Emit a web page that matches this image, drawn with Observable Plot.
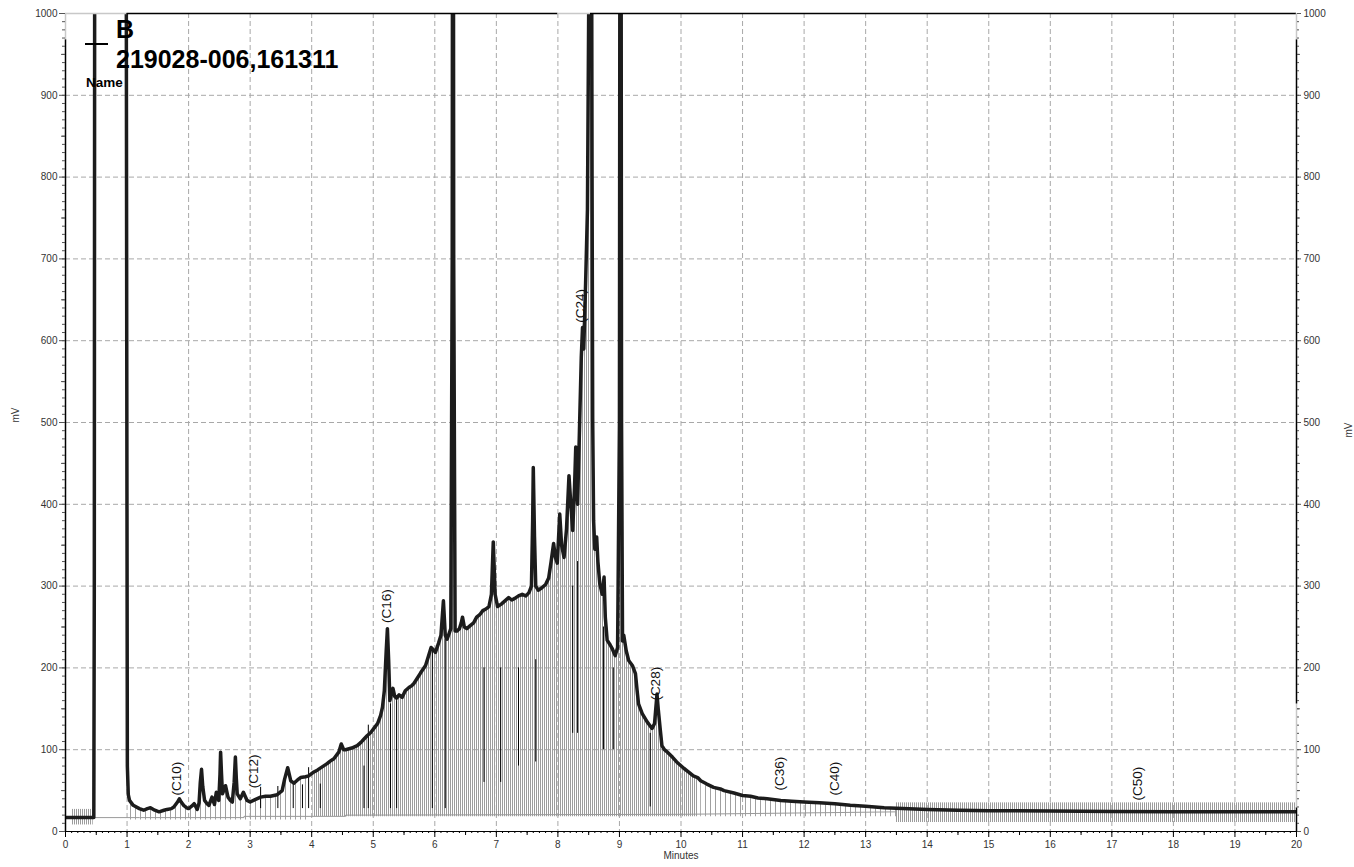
<!DOCTYPE html>
<html>
<head>
<meta charset="utf-8">
<script src="https://cdn.jsdelivr.net/npm/d3@7"></script>
<script src="https://cdn.jsdelivr.net/npm/@observablehq/plot@0.6"></script>
<style>
  html, body { margin: 0; padding: 0; background: #fff; }
  #wrap { position: relative; width: 1354px; height: 867px; font-family: "Liberation Sans", Arial, sans-serif; }
  #wrap svg { position: absolute; left: 0; top: 0; }
  .key { position: absolute; color: #000; font-weight: bold; line-height: 1; white-space: nowrap; }
  .key-line { position: absolute; left: 85px; top: 43px; width: 23px; height: 2px; background: #000; }
</style>
</head>
<body>
<div id="wrap">
  <div class="key-line"></div>
  <div class="key" style="left:116px; top:17px; font-size:25px;">B</div>
  <div class="key" style="left:116px; top:47px; font-size:25px;">219028-006,161311</div>
  <div class="key" style="left:86px; top:76px; font-size:13.5px;">Name</div>
</div>
<script>
// Detector signal (minutes, mV)
const trace = [
  [0, 17], [0.46, 17], [0.468, 300], [0.475, 1200], [0.985, 1200], [0.995, 600],
  [1.005, 80], [1.02, 45], [1.04, 38], [1.1, 32], [1.2, 28], [1.27, 26], [1.33, 28],
  [1.38, 29], [1.45, 26], [1.52, 24], [1.6, 26], [1.65, 27], [1.72, 28], [1.76, 30],
  [1.82, 36], [1.85, 40], [1.88, 36], [1.92, 32], [1.97, 29], [2.0, 28], [2.05, 31],
  [2.09, 34], [2.14, 27], [2.17, 35], [2.19, 60], [2.21, 76], [2.23, 55], [2.26, 38],
  [2.3, 34], [2.33, 32], [2.38, 42], [2.42, 33], [2.45, 48], [2.49, 38], [2.51, 70],
  [2.52, 97], [2.535, 70], [2.55, 46], [2.6, 56], [2.64, 42], [2.68, 38], [2.71, 36],
  [2.74, 60], [2.76, 91], [2.775, 65], [2.79, 46], [2.84, 40], [2.89, 48], [2.95, 38],
  [3.0, 36], [3.08, 39], [3.17, 42], [3.25, 43], [3.33, 43], [3.44, 45], [3.52, 50],
  [3.56, 64], [3.61, 78], [3.66, 62], [3.71, 59], [3.77, 63], [3.82, 66], [3.9, 67],
  [3.95, 68], [4.02, 72], [4.09, 75], [4.17, 79], [4.25, 83], [4.3, 86], [4.36, 89],
  [4.44, 97], [4.48, 107], [4.52, 100], [4.55, 100], [4.65, 102], [4.74, 105],
  [4.8, 109], [4.85, 113], [4.9, 117], [4.96, 121], [5.02, 127], [5.07, 132],
  [5.12, 142], [5.15, 152], [5.18, 172], [5.21, 220], [5.23, 248], [5.25, 210],
  [5.27, 160], [5.3, 170], [5.32, 175], [5.35, 165], [5.38, 163], [5.42, 167],
  [5.47, 164], [5.52, 172], [5.58, 176], [5.62, 178], [5.66, 181], [5.72, 188],
  [5.77, 194], [5.85, 203], [5.9, 215], [5.94, 225], [5.98, 222], [6.01, 219],
  [6.06, 230], [6.1, 240], [6.14, 282], [6.17, 240], [6.2, 235], [6.26, 248],
  [6.283, 700], [6.288, 1200], [6.302, 1200], [6.307, 700], [6.33, 245], [6.36, 245],
  [6.4, 248], [6.43, 255], [6.45, 262], [6.48, 250], [6.52, 248], [6.58, 252],
  [6.63, 255], [6.68, 262], [6.73, 265], [6.78, 270], [6.83, 272], [6.88, 275],
  [6.92, 290], [6.95, 354], [6.98, 290], [7.02, 275], [7.08, 278], [7.14, 282],
  [7.2, 286], [7.25, 283], [7.3, 285], [7.36, 288], [7.42, 290], [7.48, 288],
  [7.53, 292], [7.57, 300], [7.59, 380], [7.6, 445], [7.62, 360], [7.64, 300],
  [7.68, 295], [7.74, 298], [7.8, 302], [7.85, 310], [7.89, 330], [7.93, 352],
  [7.96, 335], [7.99, 328], [8.03, 388], [8.06, 350], [8.1, 335], [8.14, 370],
  [8.18, 435], [8.21, 400], [8.24, 368], [8.27, 420], [8.29, 470], [8.32, 400],
  [8.35, 490], [8.38, 580], [8.4, 616], [8.42, 590], [8.45, 670], [8.48, 760],
  [8.5, 1000], [8.51, 1200], [8.545, 1200], [8.555, 800], [8.565, 506], [8.58, 380],
  [8.6, 345], [8.63, 360], [8.65, 330], [8.68, 303], [8.72, 290], [8.75, 311],
  [8.77, 262], [8.8, 234], [8.85, 228], [8.88, 224], [8.93, 215], [8.97, 225],
  [9.0, 500], [9.008, 1200], [9.026, 1200], [9.034, 500], [9.05, 233], [9.07, 240],
  [9.11, 221], [9.15, 209], [9.21, 203], [9.26, 193], [9.29, 170], [9.31, 156],
  [9.37, 144], [9.45, 134], [9.53, 126], [9.57, 132], [9.59, 150], [9.61, 168],
  [9.63, 150], [9.66, 127], [9.69, 105], [9.73, 100], [9.78, 97], [9.86, 91],
  [9.93, 85], [9.99, 81], [10.05, 77], [10.12, 73], [10.2, 68], [10.27, 66],
  [10.32, 62], [10.42, 58], [10.53, 54], [10.64, 52], [10.7, 50], [10.86, 47],
  [11.0, 44], [11.13, 43], [11.25, 41], [11.4, 40], [11.62, 38], [11.8, 37],
  [12.0, 36], [12.25, 35], [12.5, 34], [12.75, 32], [13.0, 31], [13.3, 29],
  [13.6, 28], [14.0, 27], [14.5, 26], [15, 25.5], [16, 25], [17, 24.5], [18, 24],
  [19, 24], [20, 24]
].map(([t, v]) => ({t, v}));

// Integration baseline
const baseline = [
  [0, 17], [1.2, 17], [2.9, 17], [2.9, 18.5], [4.55, 18.5], [4.55, 20],
  [10, 21], [13.5, 24]
].map(([t, v]) => ({t, v}));

// Spans of event markers below the signal
const markerSpans = [
  {from: 1.03, to: 4.0, floor: 14, kind: "sparse"},
  {from: 4.0, to: 10.3, floor: 18, kind: "dense"},
  {from: 10.3, to: 13.6, floor: 18, kind: "sparse"}
];

// Bands of dense event markers around a flat signal
const noiseBands = [
  {from: 0.1, to: 0.45, lo: 8, hi: 27},
  {from: 13.5, to: 20, lo: 11, hi: 35}
];

// Peak drop lines
const dropLines = [
  {t: 3.17, lo: 28, hi: 54}, {t: 3.45, lo: 28, hi: 55}, {t: 3.7, lo: 28, hi: 60},
  {t: 3.85, lo: 28, hi: 57}, {t: 3.95, lo: 28, hi: 78}, {t: 4.14, lo: 28, hi: 58},
  {t: 4.85, lo: 28, hi: 80}, {t: 4.92, lo: 28, hi: 130}, {t: 5.28, lo: 28, hi: 156},
  {t: 5.38, lo: 28, hi: 160}, {t: 5.96, lo: 28, hi: 222}, {t: 6.17, lo: 28, hi: 235},
  {t: 6.8, lo: 60, hi: 200}, {t: 7.07, lo: 60, hi: 200}, {t: 7.36, lo: 80, hi: 200},
  {t: 7.64, lo: 85, hi: 210}, {t: 8.24, lo: 120, hi: 300}, {t: 8.32, lo: 120, hi: 330},
  {t: 8.74, lo: 100, hi: 250}, {t: 8.9, lo: 100, hi: 200}, {t: 9.5, lo: 30, hi: 120}
];

// Peak labels: retention time and the signal level where each label starts
const peakNames = ["(C10)", "(C12)", "(C16)", "(C24)", "(C28)", "(C36)", "(C40)", "(C50)"];
const peakTimes = [1.8, 3.06, 5.215, 8.37, 9.585, 11.6, 12.49, 17.42];
const peakLevels = [44, 53, 255, 622, 160, 50, 44, 38];

// Axis ticks and labels
const xMajor = [0, 1, 2, 3, 4, 5, 6, 7, 8, 9, 10, 11, 12, 13, 14, 15, 16, 17, 18, 19, 20];
const yMajor = [0, 100, 200, 300, 400, 500, 600, 700, 800, 900, 1000];
const xLabel = "Minutes";
const yLabel = "mV";

// Frame edge segments
const topEdge = [
  {x1: 0, x2: 1.0, stroke: "#c8c8c8"}, {x1: 1.0, x2: 8.0, stroke: "#000"},
  {x1: 8.0, x2: 8.53, stroke: "#c8c8c8"}, {x1: 8.53, x2: 20, stroke: "#000"}
];
const leftEdge = [
  {y1: 0, y2: 968, stroke: "#000"}, {y1: 968, y2: 1000, stroke: "#c8c8c8"}
];
const rightEdge = [
  {y1: 0, y2: 29, stroke: "#000"}, {y1: 29, y2: 156, stroke: "#c8c8c8"},
  {y1: 156, y2: 968, stroke: "#000"}, {y1: 968, y2: 1000, stroke: "#c8c8c8"}
];

const xMinor = d3.range(0, 201).map(i => i / 10);
const xHalf = d3.range(0, 40).map(i => i + 0.5).filter(d => d < 20);
const yMinor = d3.range(0, 101).map(i => i * 10);
const yHalf = d3.range(0, 10).map(i => i * 100 + 50);

const peakLabels = peakNames.map((name, i) => ({name, t: peakTimes[i], v: peakLevels[i]}));

const spanMarks = markerSpans.map(s => Plot.areaY(
  trace.filter(d => d.t >= s.from && d.t <= s.to),
  {x: "t", y1: s.floor, y2: "v", fill: s.kind === "dense" ? "url(#hatch-dense)" : "url(#hatch-sparse)", clip: true}
));

const font = {fontFamily: "'Liberation Sans', Arial, sans-serif"};

const chart = Plot.plot({
  width: 1354,
  height: 867,
  marginLeft: 65,
  marginRight: 58,
  marginTop: 13,
  marginBottom: 36,
  style: {background: "transparent", ...font, fontSize: "10px", color: "#333"},
  x: {domain: [0, 20]},
  y: {domain: [0, 1000]},
  marks: [
    Plot.gridX({ticks: xMajor.slice(1, -1), stroke: "#a8a8a8", strokeOpacity: 1, strokeDasharray: "5,3"}),
    Plot.gridY({ticks: yMajor.slice(1, -1), stroke: "#a8a8a8", strokeOpacity: 1, strokeDasharray: "5,3"}),
    ...spanMarks,
    Plot.rect(noiseBands, {x1: "from", x2: "to", y1: "lo", y2: "hi", fill: "url(#hatch-dense)"}),
    Plot.line(baseline, {x: "t", y: "v", stroke: "#9a9a9a", strokeWidth: 1}),
    Plot.ruleX(dropLines, {x: "t", y1: "lo", y2: "hi", stroke: "#000", strokeWidth: 1}),
    Plot.line(trace, {x: "t", y: "v", stroke: "#1c1c1c", strokeWidth: 3.5, strokeLinejoin: "round", clip: true}),
    Plot.text(peakLabels, {x: "t", y: "v", text: "name", rotate: -90, textAnchor: "start", fontSize: 13.5, fill: "#111"}),
    // frame
    Plot.ruleY(topEdge, {y: 1000, x1: "x1", x2: "x2", stroke: "stroke", strokeWidth: 1.5}),
    Plot.ruleX(leftEdge, {x: 0, y1: "y1", y2: "y2", stroke: "stroke", strokeWidth: 1.5}),
    Plot.ruleX(rightEdge, {x: 20, y1: "y1", y2: "y2", stroke: "stroke", strokeWidth: 1.5}),
    Plot.ruleY([0], {stroke: "#000", strokeWidth: 1}),
    // axes
    Plot.axisX({ticks: xMinor, tickSize: 2, tickFormat: () => "", label: null, stroke: "#000"}),
    Plot.axisX({ticks: xHalf, tickSize: 4, tickFormat: () => "", label: null, stroke: "#000"}),
    Plot.axisX({ticks: xMajor, tickSize: 6, tickPadding: 3, tickFormat: d => String(d), label: null, stroke: "#000", fill: "#333", fontSize: 10}),
    Plot.axisY({anchor: "left", ticks: yMinor, tickSize: 3, tickFormat: () => "", label: null, stroke: "#555"}),
    Plot.axisY({anchor: "left", ticks: yHalf, tickSize: 4, tickFormat: () => "", label: null, stroke: "#555"}),
    Plot.axisY({anchor: "left", ticks: yMajor, tickSize: 6, tickPadding: 2, tickFormat: d => String(d), label: null, stroke: "#555", fill: "#333", fontSize: 10}),
    Plot.axisY({anchor: "right", ticks: yMinor, tickSize: 2, tickFormat: () => "", label: null, stroke: "#555"}),
    Plot.axisY({anchor: "right", ticks: yHalf, tickSize: 3, tickFormat: () => "", label: null, stroke: "#555"}),
    Plot.axisY({anchor: "right", ticks: yMajor, tickSize: 4, tickPadding: 3, tickFormat: d => String(d), label: null, stroke: "#555", fill: "#333", fontSize: 10}),
    Plot.text([xLabel], {frameAnchor: "bottom", dy: 27, fontSize: 10, fill: "#333"}),
    Plot.text([yLabel], {frameAnchor: "left", dx: -50, rotate: -90, fontSize: 10, fill: "#333"}),
    Plot.text([yLabel], {frameAnchor: "right", dx: 52, rotate: -90, fontSize: 10, fill: "#333"})
  ]
});

// vertical hatch patterns used by the event-marker areas
const defs = d3.create("svg:defs");
[["hatch-dense", 2, "#9c9c9c"], ["hatch-sparse", 5, "#a0a0a0"]].forEach(([id, w, c]) => {
  const p = defs.append("pattern").attr("id", id).attr("width", w).attr("height", 8)
    .attr("patternUnits", "userSpaceOnUse");
  p.append("rect").attr("x", 0).attr("y", 0).attr("width", 1).attr("height", 8).attr("fill", c);
});
chart.insertBefore(defs.node(), chart.firstChild);

const wrap = document.getElementById("wrap");
wrap.insertBefore(chart, wrap.firstChild);
</script>
</body>
</html>
